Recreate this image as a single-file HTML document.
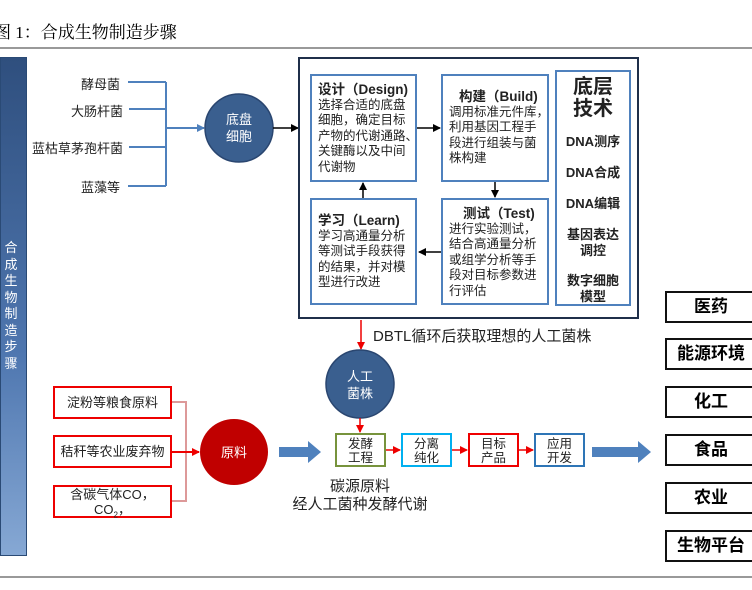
<!DOCTYPE html>
<html><head><meta charset="utf-8"><style>
*{margin:0;padding:0;box-sizing:border-box}
body{width:752px;height:590px;background:#fff;position:relative;overflow:hidden;font-family:"Liberation Sans","Noto Sans CJK SC",sans-serif;color:#000}
.a{position:absolute}
.box{position:absolute;border:2px solid #4f81bd;background:#fff;font-size:12.5px;line-height:15.5px;padding:3px 6px;color:#222;white-space:nowrap}
.box b{display:block;font-size:13.5px}
.rb{position:absolute;border:2px solid #111;background:#fff;font-weight:bold;font-size:17px;text-align:center;line-height:28px;width:92px;height:32px;left:665px}
.red{position:absolute;border:2px solid #e00;background:#fff;font-size:13px;text-align:center;left:53px;width:119px;height:33px;line-height:29px;color:#222}
.sm{position:absolute;top:433px;height:34px;width:51px;border:2px solid;font-size:12.5px;line-height:14px;text-align:center;padding-top:2px;color:#222}
.lbl{position:absolute;font-size:13px;color:#222;text-align:right;width:120px;left:0}
</style></head><body>
<div class="a" style="left:-6px;top:18px;font-size:17px;font-family:'Liberation Serif','Noto Serif CJK SC',serif">图 1：合成生物制造步骤</div>
<div class="a" style="left:0;top:47px;width:752px;height:2px;background:#999"></div>
<div class="a" style="left:0;top:576px;width:752px;height:2px;background:#999"></div>
<div class="a" style="left:0;top:57px;width:27px;height:499px;background:linear-gradient(#2f4f7e,#4f77b0 60%,#86a8d4);border:1px solid #2a4a75"></div>
<div class="a" style="left:4px;top:240px;width:14px;font-size:13px;line-height:16.5px;color:#fff;text-align:center">合成生物制造步骤</div>

<div class="lbl" style="top:74px">酵母菌</div>
<div class="lbl" style="top:101px;width:123px">大肠杆菌</div>
<div class="lbl" style="top:138px;width:123px">蓝枯草茅孢杆菌</div>
<div class="lbl" style="top:177px">蓝藻等</div>

<svg class="a" style="left:0;top:0" width="752" height="590">
<defs>
<marker id="k" markerWidth="8" markerHeight="8" refX="7" refY="4" orient="auto" markerUnits="userSpaceOnUse"><path d="M0,0L8,4L0,8z" fill="#000"/></marker>
<marker id="b" markerWidth="8" markerHeight="8" refX="7" refY="4" orient="auto" markerUnits="userSpaceOnUse"><path d="M0,0L8,4L0,8z" fill="#4f81bd"/></marker>
<marker id="r" markerWidth="8" markerHeight="8" refX="7" refY="4" orient="auto" markerUnits="userSpaceOnUse"><path d="M0,0L8,4L0,8z" fill="#e00"/></marker>
</defs>
<g stroke="#4f81bd" stroke-width="2" fill="none">
<path d="M128,82H166M129,109H166M129,147H166M128,186H166M166,82V186"/>
<path d="M166,128H204" marker-end="url(#b)"/>
</g>
<circle cx="239" cy="128" r="34" fill="#3a5f8f" stroke="#2a4670" stroke-width="1.5"/>
<text x="239" y="124" fill="#fff" font-size="13" text-anchor="middle">底盘</text>
<text x="239" y="141" fill="#fff" font-size="13" text-anchor="middle">细胞</text>
<path d="M273,128H298" stroke="#000" stroke-width="1.5" marker-end="url(#k)"/>
<rect x="299" y="58" width="339" height="260" fill="none" stroke="#1f2f4a" stroke-width="2"/>
<g stroke="#000" stroke-width="1.5">
<path d="M417,128H440" marker-end="url(#k)"/>
<path d="M495,182V197" marker-end="url(#k)"/>
<path d="M441,252H419" marker-end="url(#k)"/>
<path d="M363,198V183" marker-end="url(#k)"/>
</g>
<path d="M361,320V349" stroke="#e00" stroke-width="1.5" marker-end="url(#r)"/>
<circle cx="360" cy="384" r="34" fill="#3a5f8f" stroke="#2a4670" stroke-width="1.5"/>
<text x="360" y="381" fill="#fff" font-size="13" text-anchor="middle">人工</text>
<text x="360" y="398" fill="#fff" font-size="13" text-anchor="middle">菌株</text>
<path d="M360,418V432" stroke="#e00" stroke-width="1.5" marker-end="url(#r)"/>
<path d="M172,402H186V501H172" stroke="#d99" stroke-width="2" fill="none"/>
<path d="M172,452H199" stroke="#e00" stroke-width="2" marker-end="url(#r)"/>
<ellipse cx="234" cy="452" rx="34" ry="33" fill="#c00000"/>
<text x="234" y="457" fill="#fff" font-size="13" text-anchor="middle">原料</text>
<path d="M279,447H308V441L321,452L308,463V457H279z" fill="#4f81bd"/>
<path d="M592,447H638V441L651,452L638,463V457H592z" fill="#4f81bd"/>
<g stroke="#e00" stroke-width="1.5">
<path d="M386,450H400" marker-end="url(#r)"/>
<path d="M451,450H467" marker-end="url(#r)"/>
<path d="M518,450H533" marker-end="url(#r)"/>
</g>
</svg>

<div class="box" style="left:310px;top:74px;width:107px;height:108px;padding-top:6px"><b>设计（Design)</b>选择合适的底盘<br>细胞，确定目标<br>产物的代谢通路、<br>关键酶以及中间<br>代谢物</div>
<div class="box" style="left:441px;top:74px;width:108px;height:108px;padding-top:13px"><b style="padding-left:10px">构建（Build)</b>调用标准元件库，<br>利用基因工程手<br>段进行组装与菌<br>株构建</div>
<div class="box" style="left:310px;top:198px;width:107px;height:107px;padding-top:13px"><b>学习（Learn)</b>学习高通量分析<br>等测试手段获得<br>的结果，并对模<br>型进行改进</div>
<div class="box" style="left:441px;top:198px;width:108px;height:107px;padding-top:6px"><b style="padding-left:14px">测试（Test)</b>进行实验测试，<br>结合高通量分析<br>或组学分析等手<br>段对目标参数进<br>行评估</div>
<div class="box" style="left:555px;top:70px;width:76px;height:236px;text-align:center;padding:2px 0;font-weight:bold;font-size:13px;line-height:16px">
<div style="font-size:20px;line-height:22px;margin-top:2px">底层<br>技术</div>
<div style="margin-top:14px">DNA测序</div>
<div style="margin-top:15px">DNA合成</div>
<div style="margin-top:15px">DNA编辑</div>
<div style="margin-top:15px">基因表达<br>调控</div>
<div style="margin-top:14px">数字细胞<br>模型</div>
</div>
<div class="a" style="left:373px;top:325px;font-size:15px;color:#222">DBTL循环后获取理想的人工菌株</div>

<div class="red" style="top:386px">淀粉等粮食原料</div>
<div class="red" style="top:435px">秸秆等农业废弃物</div>
<div class="red" style="top:485px;line-height:15px;padding-top:0">含碳气体CO，<br>CO<sub style="font-size:8px">2</sub>，</div>

<div class="sm" style="left:335px;border-color:#77933c">发酵<br>工程</div>
<div class="sm" style="left:401px;border-color:#00b0f0">分离<br>纯化</div>
<div class="sm" style="left:468px;border-color:#e00">目标<br>产品</div>
<div class="sm" style="left:534px;border-color:#2e75b6">应用<br>开发</div>
<div class="a" style="left:260px;width:200px;top:478px;font-size:15px;line-height:18px;text-align:center;color:#222">碳源原料<br>经人工菌种发酵代谢</div>

<div class="rb" style="top:291px">医药</div>
<div class="rb" style="top:338px">能源环境</div>
<div class="rb" style="top:386px">化工</div>
<div class="rb" style="top:434px">食品</div>
<div class="rb" style="top:482px">农业</div>
<div class="rb" style="top:530px">生物平台</div>
</body></html>
